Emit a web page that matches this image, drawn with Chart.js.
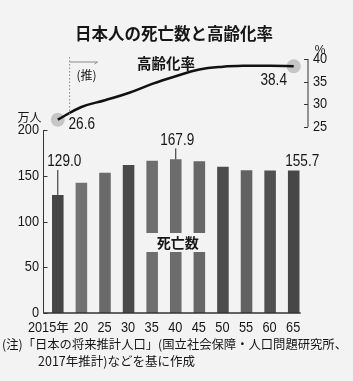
<!DOCTYPE html>
<html>
<head>
<meta charset="utf-8">
<script src="https://cdn.jsdelivr.net/npm/chart.js@4"></script>
<style>
  html, body { margin: 0; padding: 0; background: #f3f3f3; }
  canvas { display: block; }
</style>
</head>
<body>
<canvas id="myChart" width="353" height="381"></canvas>
<script>
// data
const years = ['2015年', '20', '25', '30', '35', '40', '45', '50', '55', '60', '65'];
const deaths = [129.0, 142.4, 153.3, 161.7, 166.5, 167.9, 165.8, 159.9, 156.0, 155.8, 155.7];
const agingRate = [26.6, 29.4, 30.9, 32.5, 34.5, 36.2, 37.7, 38.3, 38.5, 38.5, 38.4];
const leftTicks = [0, 50, 100, 150, 200];
const rightTicks = [25, 30, 35, 40];

const barColors = ['#454545', '#727272', '#6a6a6a', '#4a4a4a', '#6e6e6e', '#6c6c6c',
                   '#686868', '#4c4c4c', '#626262', '#505050', '#474747'];

const NUM = "'Liberation Sans','Arial',sans-serif";
const JP = "'Noto Sans CJK JP',sans-serif";
const INK = '#161616';
const BG = '#f3f3f3';

function text(ctx, str, x, y, font, align) {
    ctx.font = font;
    ctx.textAlign = align || 'center';
    ctx.textBaseline = 'middle';
    ctx.fillStyle = INK;
    ctx.fillText(str, x, y);
}

// numbers in the picture use a condensed face
function num(ctx, str, x, y, size, align) {
    ctx.save();
    ctx.translate(x, y);
    ctx.scale(0.85, 1);
    text(ctx, str, 0, 0, size + 'px ' + NUM, align);
    ctx.restore();
}

const decor = {
    id: 'decor',
    beforeDraw(chart) {
        const ctx = chart.ctx;
        ctx.save();
        ctx.fillStyle = BG;
        ctx.fillRect(0, 0, chart.width, chart.height);
        ctx.restore();
    },
    afterDatasetsDraw(chart) {
        const ctx = chart.ctx;
        const area = chart.chartArea;
        const x = chart.scales.x;
        const yL = chart.scales.yL;
        const yR = chart.scales.yR;
        ctx.save();

        // gap in the middle bars for the label
        const gx0 = x.getPixelForValue(4) - 12;
        const gx1 = x.getPixelForValue(6) + 12;
        ctx.fillStyle = BG;
        ctx.fillRect(gx0, 233, gx1 - gx0, 19);
        text(ctx, '死亡数', (gx0 + gx1) / 2 + 2, 243, 'bold 14px ' + JP);

        // axes
        ctx.strokeStyle = '#333';
        ctx.lineWidth = 1;
        const lx = area.left - 2.5;
        ctx.beginPath();
        ctx.moveTo(lx, yL.getPixelForValue(200));
        ctx.lineTo(lx, yL.getPixelForValue(0));
        leftTicks.forEach(v => {
            const py = Math.round(yL.getPixelForValue(v)) + 0.5;
            ctx.moveTo(lx, py);
            ctx.lineTo(lx + 4, py);
        });
        const rx = area.right + 2.5;
        ctx.moveTo(rx, yR.getPixelForValue(40));
        ctx.lineTo(rx, yR.getPixelForValue(25));
        rightTicks.forEach(v => {
            const py = Math.round(yR.getPixelForValue(v)) + 0.5;
            ctx.moveTo(rx - 4, py);
            ctx.lineTo(rx, py);
        });
        ctx.stroke();
        ctx.lineWidth = 1.5;
        ctx.beginPath();
        ctx.moveTo(lx, area.bottom);
        ctx.lineTo(x.getPixelForValue(10) + 7, area.bottom);
        ctx.stroke();

        // tick labels
        leftTicks.forEach(v => num(ctx, String(v), 39, yL.getPixelForValue(v), 15, 'right'));
        rightTicks.forEach(v => num(ctx, String(v), 313, yR.getPixelForValue(v), 15, 'left'));
        years.forEach((lab, i) => {
            const cx = x.getPixelForValue(i);
            if (lab.endsWith('年')) {
                num(ctx, lab.slice(0, -1), cx - 1.5, area.bottom + 14.5, 15, 'right');
                text(ctx, '年', cx - 1.5, area.bottom + 14, '12.5px ' + JP, 'left');
            } else {
                num(ctx, lab, cx - 0.5, area.bottom + 14.5, 15);
            }
        });

        // projection marker
        const px = (x.getPixelForValue(0) + x.getPixelForValue(1)) / 2;
        ctx.strokeStyle = '#888';
        ctx.lineWidth = 1;
        ctx.setLineDash([1.5, 2]);
        ctx.beginPath();
        ctx.moveTo(px, area.top - 2);
        ctx.lineTo(px, yR.getPixelForValue(agingRate[0]) - 3);
        ctx.stroke();
        ctx.setLineDash([]);
        ctx.beginPath();
        ctx.moveTo(px, area.top + 3);
        ctx.lineTo(px + 28, area.top + 3);
        ctx.lineTo(px + 25, area.top + 5);
        ctx.stroke();
        text(ctx, '(推)', px + 17, 75, '12px ' + JP);

        // bar value labels
        const b0 = x.getPixelForValue(0), t0 = yL.getPixelForValue(deaths[0]);
        const b5 = x.getPixelForValue(5), t5 = yL.getPixelForValue(deaths[5]);
        const b10 = x.getPixelForValue(10), t10 = yL.getPixelForValue(deaths[10]);
        ctx.strokeStyle = '#222';
        ctx.lineWidth = 1;
        ctx.beginPath();
        ctx.moveTo(b0, t0 - 25);
        ctx.lineTo(b0, t0);
        ctx.moveTo(b5, t5 - 11);
        ctx.lineTo(b5, t5);
        ctx.stroke();
        num(ctx, deaths[0].toFixed(1), b0 + 6.5, t0 - 33, 16);
        num(ctx, deaths[5].toFixed(1), b5 + 1.5, t5 - 19, 16);
        num(ctx, deaths[10].toFixed(1), b10 + 8.5, t10 - 9, 16);

        // line value labels
        const l0 = yR.getPixelForValue(agingRate[0]);
        const l10 = yR.getPixelForValue(agingRate[10]);
        num(ctx, agingRate[0].toFixed(1), b0 + 24, l0 + 5, 16);
        num(ctx, agingRate[10].toFixed(1), b10 - 20, l10 + 14, 16);

        // titles and units
        text(ctx, '日本人の死亡数と高齢化率', 174, 34, 'bold 16.5px ' + JP);
        text(ctx, '高齢化率', 166, 63, 'bold 14.5px ' + JP);
        text(ctx, '万人', 29.5, 117, '12px ' + JP);
        text(ctx, '%', 320, 51, '12px ' + NUM);

        // note
        ctx.font = '12.5px ' + JP;
        ctx.textAlign = 'left';
        ctx.fillText('(注)「日本の将来推計人口」(国立社会保障・人口問題研究所、', 2, 344.5, 345);
        ctx.fillText('2017年推計)などを基に作成', 38, 361.5);
        ctx.restore();
    }
};

const ctx = document.getElementById('myChart').getContext('2d');
const myChart = new Chart(ctx, {
    type: 'bar',
    data: {
        labels: years,
        datasets: [{
            type: 'line',
            data: agingRate,
            yAxisID: 'yR',
            borderColor: '#111',
            borderWidth: 2.5,
            tension: 0.4,
            pointRadius: 0,
            order: 1
        }, {
            type: 'line',
            data: agingRate,
            yAxisID: 'yR',
            showLine: false,
            pointRadius: c => (c.dataIndex === 0 || c.dataIndex === agingRate.length - 1) ? 7 : 0,
            pointBackgroundColor: '#c6c6c6',
            pointBorderWidth: 0,
            order: 2
        }, {
            type: 'bar',
            data: deaths,
            yAxisID: 'yL',
            backgroundColor: barColors,
            barPercentage: 0.49,
            categoryPercentage: 1,
            order: 3
        }]
    },
    options: {
        responsive: false,
        animation: false,
        devicePixelRatio: 1,
        layout: { padding: { top: 59, left: 0, right: 0, bottom: 0 } },
        plugins: { legend: { display: false }, tooltip: { enabled: false } },
        scales: {
            x: {
                ticks: { display: false },
                grid: { display: false, drawTicks: false },
                border: { display: false },
                afterFit(s) { s.height = 68; }
            },
            yL: {
                position: 'left',
                min: 0,
                max: 277.6,
                afterBuildTicks(s) { s.ticks = leftTicks.map(v => ({ value: v })); },
                afterFit(s) { s.width = 46; },
                grid: { display: false, drawTicks: false },
                border: { display: false },
                ticks: { display: false }
            },
            yR: {
                position: 'right',
                min: -16.07,
                max: 40,
                afterBuildTicks(s) { s.ticks = rightTicks.map(v => ({ value: v })); },
                afterFit(s) { s.width = 47.5; },
                grid: { display: false, drawTicks: false },
                border: { display: false },
                ticks: { display: false }
            }
        }
    },
    plugins: [decor]
});
</script>
</body>
</html>
